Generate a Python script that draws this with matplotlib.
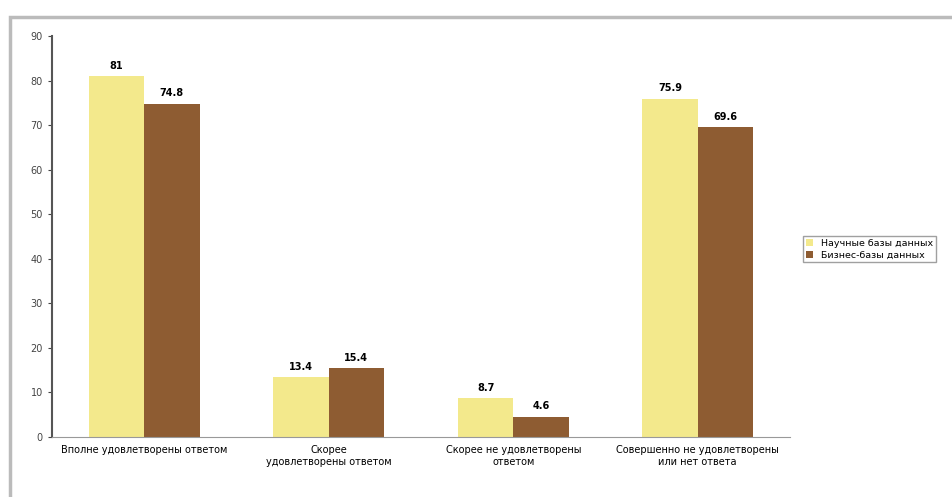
import matplotlib.pyplot as plt
import numpy as np
from matplotlib.patches import Rectangle

categories = ['Вполне удовлетворены ответом',
              'Скорее\nудовлетворены ответом',
              'Скорее не удовлетворены\nответом',
              'Совершенно не удовлетворены\nили нет ответа']
series_names = ['Научные базы данных', 'Бизнес-базы данных']
series_a = [81.0, 13.4, 8.7, 75.9]
series_b = [74.8, 15.4, 4.6, 69.6]
y_ticks = [0, 10, 20, 30, 40, 50, 60, 70, 80, 90]

plt.rcParams['font.family'] = ['DejaVu Sans']

fig = plt.figure(figsize=(9.52, 4.97), dpi=100)
ax = fig.add_axes([52 / 952, 60 / 497, 738 / 952, 401 / 497])

x = np.arange(len(categories))
w = 0.3
bars_a = ax.bar(x - w / 2, series_a, w, color='#F3E98C', label=series_names[0])
bars_b = ax.bar(x + w / 2, series_b, w, color='#8E5C32', label=series_names[1])

for bars in (bars_a, bars_b):
    for b in bars:
        v = b.get_height()
        txt = f'{v:g}' if v != int(v) else f'{int(v)}'
        ax.text(b.get_x() + b.get_width() / 2, v + 1.2, txt,
                ha='center', va='bottom', fontsize=7, fontweight='bold')

ax.set_xlim(-0.5, len(categories) - 0.5)
ax.set_ylim(0, 90)
ax.set_yticks(y_ticks)
ax.tick_params(axis='y', labelsize=7, length=3, colors='#444444')
ax.set_xticks(x)
ax.set_xticklabels(categories, fontsize=7)
ax.tick_params(axis='x', length=0, pad=6)

for s in ('top', 'right'):
    ax.spines[s].set_visible(False)
ax.spines['left'].set_color('#555555')
ax.spines['left'].set_linewidth(1.5)
ax.spines['bottom'].set_color('#999999')

leg = fig.legend(loc='center left', bbox_to_anchor=(803 / 952, 248 / 497),
                 fontsize=6.8, frameon=True, fancybox=False,
                 edgecolor='#888888', handlelength=0.8, handleheight=0.8,
                 borderpad=0.3, labelspacing=0.3, borderaxespad=0)

# outer chart frame, as in the screenshot
fig.add_artist(Rectangle((10 / 952, -0.1), 1.2, 480 / 497 + 0.1,
                         transform=fig.transFigure, fill=False,
                         edgecolor='#BBBBBB', linewidth=2.5))

fig.savefig('out.png', dpi=100)
